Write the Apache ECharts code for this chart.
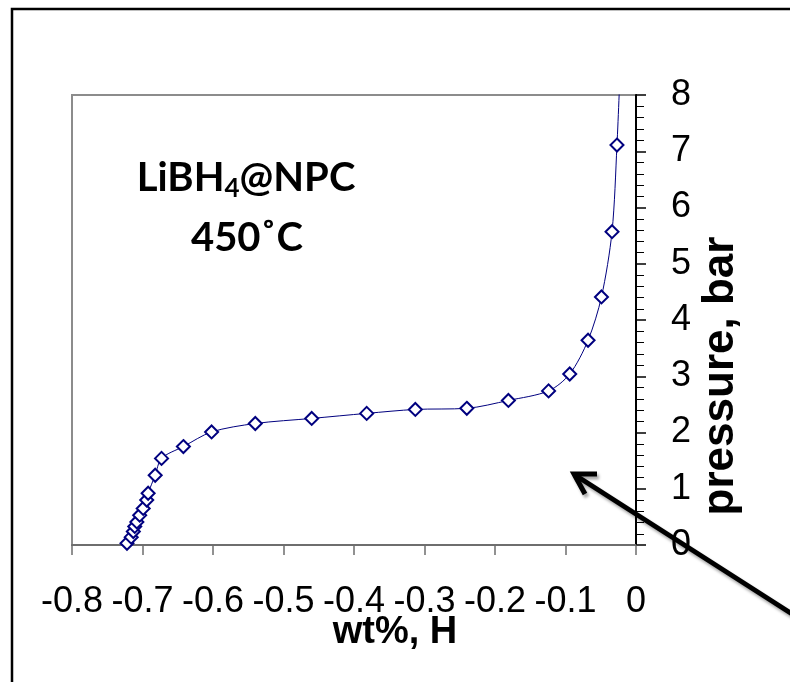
<!DOCTYPE html>
<html><head><meta charset="utf-8">
<script src="https://cdn.jsdelivr.net/npm/echarts@6/dist/echarts.min.js"></script>
<style>html,body{margin:0;padding:0;background:#fff}#c{width:790px;height:682px}</style>
</head><body><div id="c"></div>
<script>
// wt%, H (x) and pressure, bar (y)
const wtH = [-0.722,-0.716,-0.713,-0.711,-0.708,-0.704,-0.699,-0.694,-0.692,-0.682,-0.673,-0.642,-0.602,-0.540,-0.460,-0.382,-0.313,-0.240,-0.181,-0.124,-0.094,-0.068,-0.049,-0.034,-0.027,-0.022];
const pressure = [0.03,0.14,0.24,0.33,0.41,0.53,0.65,0.80,0.92,1.24,1.54,1.75,2.01,2.16,2.25,2.34,2.41,2.43,2.57,2.74,3.04,3.64,4.41,5.57,7.11,8.6];
const xMin = -0.8, xMax = 0, xStep = 0.1;
const yMin = 0, yMax = 8, yStep = 1;
const labelLine1 = ['LiBH', '4', '@NPC'];
const labelLine2 = '450˚C';
const xTitle = 'wt%, H';
const yTitle = 'pressure, bar';

const pts = wtH.map((x, i) => [x, pressure[i]]);
const chart = echarts.init(document.getElementById('c'), null, {renderer: 'canvas'});
const navy = '#00007f';
chart.setOption({
  animation: false,
  backgroundColor: '#fff',
  grid: {left: 72, right: 154, top: 95, bottom: 137, show: true, borderColor: '#8c8c8c', borderWidth: 2, backgroundColor: 'transparent'},
  xAxis: {
    type: 'value', min: xMin, max: xMax, interval: xStep,
    axisLine: {show: true, onZero: false, lineStyle: {color: '#6e6e6e', width: 2}},
    axisTick: {show: true, inside: false, length: 10, lineStyle: {color: '#6e6e6e', width: 1.5}},
    splitLine: {show: false},
    axisLabel: {color: '#000', fontFamily: 'Liberation Sans, Arial', fontSize: 36, margin: 39,
      formatter: v => (Math.abs(v) < 1e-9 ? '0' : (+v.toFixed(1)).toString())}
  },
  yAxis: {
    type: 'value', position: 'right', min: yMin, max: yMax, interval: yStep,
    axisLine: {show: true, lineStyle: {color: '#000', width: 2}},
    axisTick: {show: true, inside: false, length: 10, lineStyle: {color: '#000', width: 1.5}},
    minorTick: {show: true, splitNumber: 5, length: 8, lineStyle: {color: '#000', width: 1}},
    splitLine: {show: false},
    axisLabel: {color: '#000', fontFamily: 'Liberation Sans, Arial', fontSize: 36, margin: 35}
  },
  series: [{
    type: 'line', data: pts, smooth: 0.3, clip: true,
    symbol: 'emptyDiamond', symbolSize: 13,
    lineStyle: {color: navy, width: 1},
    itemStyle: {color: navy, borderColor: navy, borderWidth: 2}
  }],
  graphic: [
    {type: 'rect', shape: {x: 12, y: 9, width: 900, height: 900}, style: {fill: 'none', stroke: '#000', lineWidth: 2.5}, silent: true},
    {type: 'text', x: 246, y: 202, style: {
      align: 'center', verticalAlign: 'bottom',
      rich: {a: {fontFamily: 'Lato, Open Sans', fontWeight: 'bold', fontSize: 40, fill: '#000'},
             s: {fontFamily: 'Lato, Open Sans', fontWeight: 'bold', fontSize: 26, fill: '#000', padding: [22, 0, 0, 0]}},
      text: '{a|' + labelLine1[0] + '}{s|' + labelLine1[1] + '}{a|' + labelLine1[2] + '}'}},
    {type: 'text', x: 247, y: 238, style: {text: labelLine2, align: 'center', verticalAlign: 'middle', fontFamily: 'Lato, Open Sans', fontWeight: 'bold', fontSize: 40, fill: '#000'}},
    {type: 'text', x: 395, y: 633, style: {text: xTitle, fontFamily: 'Liberation Sans, Arial', fontWeight: 'bold', fontSize: 38, fill: '#000', align: 'center', verticalAlign: 'middle'}},
    {type: 'text', x: 721, y: 376, rotation: Math.PI / 2, style: {text: yTitle, fontFamily: 'Liberation Sans, Arial', fontWeight: 'bold', fontSize: 44, fill: '#000', align: 'center', verticalAlign: 'middle'}},
    {type: 'group', children: [
      {type: 'line', shape: {x1: 800, y1: 619, x2: 575, y2: 475}, style: {stroke: '#000', lineWidth: 5, shadowColor: 'rgba(0,0,0,0.35)', shadowBlur: 3, shadowOffsetX: 2, shadowOffsetY: 3}},
      {type: 'polyline', shape: {points: [[597, 474], [574, 474], [585, 494]]}, style: {stroke: '#000', fill: 'none', lineWidth: 5, lineJoin: 'miter', shadowColor: 'rgba(0,0,0,0.35)', shadowBlur: 3, shadowOffsetX: 2, shadowOffsetY: 3}}
    ]}
  ]
});
</script></body></html>
